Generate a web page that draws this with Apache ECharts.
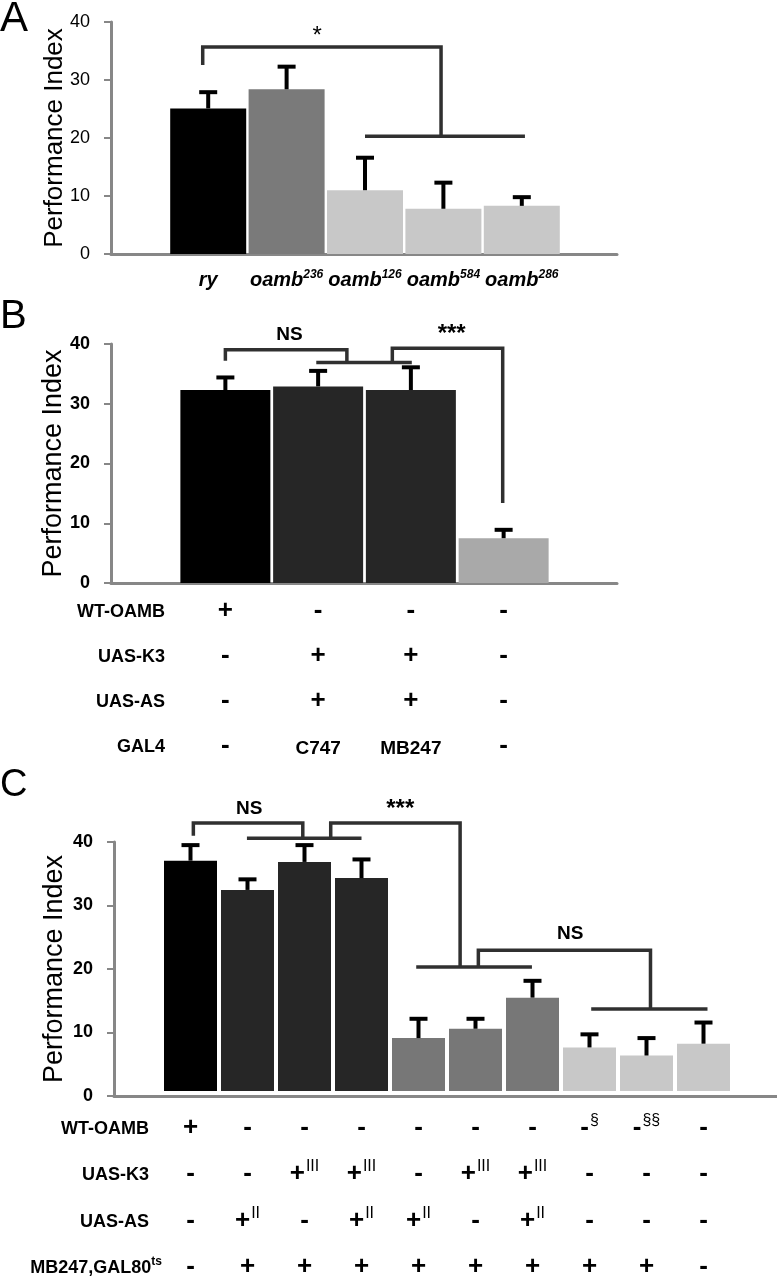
<!DOCTYPE html>
<html><head><meta charset="utf-8">
<script src="https://cdn.jsdelivr.net/npm/echarts@6/dist/echarts.min.js"></script>
<style>html,body{margin:0;padding:0;background:#fff}#c{width:777px;height:1280px}</style>
</head><body><div id="c"></div>
<script>
// ---------- DATA ----------
// Panel A
const catsA = ['ry', 'oamb^236', 'oamb^126', 'oamb^584', 'oamb^286'];
const valsA = [25.1, 28.4, 11.0, 7.8, 8.3];
const semA  = [2.8, 3.9, 5.6, 4.5, 1.5];
const colorsA = ['#000000', '#7a7a7a', '#c8c8c8', '#c8c8c8', '#c8c8c8'];
const bracketsA = [
  [[-0.07, 32.6], [-0.07, 35.7], [2.97, 35.7], [2.97, 20.3]],
  [[2.0, 20.3], [4.04, 20.3]]
];
const sigTextA = ['*'];
const sigPosA = [[1.39, 37.6]];

// Panel B
const catsB = ['1', '2', '3', '4'];
const valsB = [32.3, 32.9, 32.3, 7.5];
const semB  = [2.1, 2.6, 3.8, 1.4];
const colorsB = ['#000000', '#262626', '#262626', '#a9a9a9'];
const rowNamesB = ['WT-OAMB', 'UAS-K3', 'UAS-AS', 'GAL4'];
const wtB   = ['+', '-', '-', '-'];
const k3B   = ['-', '+', '+', '-'];
const asB   = ['-', '+', '+', '-'];
const gal4B = ['-', 'C747', 'MB247', '-'];
const bracketsB = [
  [[0, 37.2], [0, 39.05], [1.31, 39.05], [1.31, 36.9]],
  [[0.98, 36.9], [2.01, 36.9]],
  [[1.8, 36.9], [1.8, 39.3], [2.99, 39.3], [2.99, 13.4]]
];
const sigTextB = ['NS', '***'];
const sigPosB = [[0.69, 41.6], [2.44, 41.6]];

// Panel C
const catsC = ['1','2','3','4','5','6','7','8','9','10'];
const valsC = [37.0, 32.3, 36.8, 34.2, 8.5, 10.0, 15.0, 7.0, 5.7, 7.6];
const semC  = [2.5, 1.7, 2.7, 3.0, 3.1, 1.6, 2.7, 2.1, 2.8, 3.4];
const colorsC = ['#000000', '#262626', '#262626', '#262626', '#777777', '#777777', '#777777', '#c8c8c8', '#c8c8c8', '#c8c8c8'];
const rowNamesC = ['WT-OAMB', 'UAS-K3', 'UAS-AS', 'MB247,GAL80^ts'];
const wtC = ['+', '-', '-', '-', '-', '-', '-', '-^§', '-^§§', '-'];
const k3C = ['-', '-', '+^III', '+^III', '-', '+^III', '+^III', '-', '-', '-'];
const asC = ['-', '+^II', '-', '+^II', '+^II', '-', '+^II', '-', '-', '-'];
const mbC = ['-', '+', '+', '+', '+', '+', '+', '+', '+', '-'];
const bracketsC = [
  [[0.05, 41.0], [0.05, 43.0], [1.97, 43.0], [1.97, 40.6]],
  [[0.99, 40.6], [3.0, 40.6]],
  [[2.46, 40.6], [2.46, 43.0], [4.73, 43.0], [4.73, 20.3]],
  [[3.96, 20.3], [5.99, 20.3]],
  [[5.05, 20.3], [5.05, 22.96], [8.07, 22.96], [8.07, 13.7]],
  [[7.03, 13.7], [9.07, 13.7]]
];
const sigTextC = ['NS', '***', 'NS'];
const sigPosC = [[1.03, 45.3], [3.68, 45.2], [6.66, 25.6]];

const yTicks = [0, 10, 20, 30, 40];

// ---------- STYLE / LAYOUT ----------
const FF = 'Liberation Sans, Arial, sans-serif';
const AX = '#878787';
const BR = '#303030';

const panels = [
  { letter: 'A', letterSize: 42, letterTop: -2,
    frameL: 111, frameR: 617, top: 22, bottom: 254, barL: 169, cw: 78.4, barW: 76,
    cats: catsA, vals: valsA, sem: semA, colors: colorsA, brackets: bracketsA,
    sigText: sigTextA, sigPos: sigPosA, tickBold: false, nameGap: 43, nameSize: 26,
    catLabels: true, rows: [], rowNames: [], rowY: [], headGap: [] },
  { letter: 'B', letterSize: 40, letterTop: 297,
    frameL: 111, frameR: 617, top: 344, bottom: 583, barL: 179, cw: 92.75, barW: 90,
    cats: catsB, vals: valsB, sem: semB, colors: colorsB, brackets: bracketsB,
    sigText: sigTextB, sigPos: sigPosB, tickBold: true, nameGap: 44, nameSize: 27,
    catLabels: false, rows: [wtB, k3B, asB, gal4B], rowNames: rowNamesB,
    rowY: [610, 655, 700, 745], headGap: [14, 14, 14, 14] },
  { letter: 'C', letterSize: 38, letterTop: 767,
    frameL: 114, frameR: 777, top: 842, bottom: 1096, barL: 162, cw: 57, barW: 53,
    cats: catsC, vals: valsC, sem: semC, colors: colorsC, brackets: bracketsC,
    sigText: sigTextC, sigPos: sigPosC, tickBold: true, nameGap: 46, nameSize: 27,
    catLabels: false, rows: [wtC, k3C, asC, mbC], rowNames: rowNamesC,
    rowY: [1132, 1178, 1225, 1271], headGap: [13, 13, 13, 0] }
];

const cellRich = {
  b: { fontFamily: FF, fontSize: 26, fontWeight: 'bold', color: '#000', verticalAlign: 'bottom', lineHeight: 28 },
  s: { fontFamily: FF, fontSize: 16, fontWeight: 'normal', color: '#000', verticalAlign: 'bottom', lineHeight: 16, padding: [0, 0, 12, 1] },
  w: { fontFamily: FF, fontSize: 19, fontWeight: 'bold', color: '#000', verticalAlign: 'bottom', lineHeight: 26 }
};
const headRich = {
  h: { fontFamily: FF, fontSize: 18, fontWeight: 'bold', color: '#000', verticalAlign: 'bottom', lineHeight: 22 },
  s: { fontFamily: FF, fontSize: 12, fontWeight: 'bold', color: '#000', verticalAlign: 'bottom', lineHeight: 12, padding: [0, 0, 9, 0] }
};
const catRich = {
  i: { fontFamily: FF, fontSize: 20, fontWeight: 'bold', fontStyle: 'italic', color: '#000', verticalAlign: 'bottom', lineHeight: 22 },
  s: { fontFamily: FF, fontSize: 12, fontWeight: 'bold', fontStyle: 'italic', color: '#000', verticalAlign: 'bottom', lineHeight: 12, padding: [0, 0, 9, 0] }
};

function fmtCell(s) {
  const parts = s.split('^');
  if (parts[0] === '+' || parts[0] === '-') {
    return parts.length > 1 ? '{b|' + parts[0] + '}{s|' + parts[1] + '}' : '{b|' + parts[0] + '}';
  }
  return '{w|' + s + '}';
}
function fmtHead(s) {
  const parts = s.split('^');
  return parts.length > 1 ? '{h|' + parts[0] + '}{s|' + parts[1] + '}' : '{h|' + s + '}';
}
function fmtCat(s) {
  const parts = s.split('^');
  return parts.length > 1 ? '{i|' + parts[0] + '}{s|' + parts[1] + '}' : '{i|' + s + '}';
}

const grids = [], xAxes = [], yAxes = [], series = [], titles = [];

panels.forEach(function (p) {
  titles.push({ text: p.letter, left: 0, top: p.letterTop, padding: 0,
    textStyle: { fontFamily: FF, fontSize: p.letterSize, fontWeight: 'normal', color: '#000' } });

  const gF = grids.length;
  grids.push({ left: p.frameL, top: p.top, width: p.frameR - p.frameL, height: p.bottom - p.top });
  const gB = grids.length;
  grids.push({ left: p.barL, top: p.top, width: p.cw * p.cats.length, height: p.bottom - p.top });

  const xF = xAxes.length;
  xAxes.push({ gridIndex: gF, type: 'value',
    min: (p.frameL - p.barL) / p.cw - 0.5, max: (p.frameR - p.barL) / p.cw - 0.5,
    axisLine: { show: true, onZero: false, lineStyle: { color: AX, width: 3 } },
    axisTick: { show: false }, axisLabel: { show: false }, splitLine: { show: false } });
  const yF = yAxes.length;
  yAxes.push({ gridIndex: gF, type: 'value', min: yTicks[0], max: yTicks[yTicks.length - 1], interval: yTicks[1] - yTicks[0],
    axisLine: { show: true, onZero: false, lineStyle: { color: AX, width: 3 } },
    axisTick: { show: true, length: 7, lineStyle: { color: AX, width: 2 } },
    axisLabel: { fontFamily: FF, fontSize: 18, fontWeight: p.tickBold ? 'bold' : 'normal', color: '#000', margin: 21 },
    splitLine: { show: false },
    name: 'Performance Index', nameLocation: 'middle', nameGap: p.nameGap, nameMoveOverlap: false,
    nameTextStyle: { fontFamily: FF, fontSize: p.nameSize, color: '#000' } });

  const xB = xAxes.length;
  xAxes.push({ gridIndex: gB, type: 'category', data: p.cats,
    axisLine: { show: false }, axisTick: { show: false },
    axisLabel: p.catLabels ? { interval: 0, margin: 14, formatter: function (v, i) { return fmtCat(p.cats[i]); }, rich: catRich } : { show: false } });
  const yB = yAxes.length;
  yAxes.push({ gridIndex: gB, type: 'value', min: yTicks[0], max: yTicks[yTicks.length - 1], show: false });

  p.rows.forEach(function (row, r) {
    xAxes.push({ gridIndex: gB, type: 'category', data: row, position: 'bottom',
      offset: p.rowY[r] - p.bottom,
      axisLine: { show: false }, axisTick: { show: false },
      axisLabel: { interval: 0, margin: 0, verticalAlign: 'middle',
        formatter: function (v, i) { return fmtCell(row[i]); }, rich: cellRich },
      name: fmtHead(p.rowNames[r]), nameLocation: 'start', nameGap: p.headGap[r], nameMoveOverlap: false,
      nameTextStyle: { rich: headRich, verticalAlign: 'middle', align: 'right' } });
  });

  series.push({ type: 'bar', xAxisIndex: xB, yAxisIndex: yB, barWidth: p.barW, silent: true,
    data: p.vals.map(function (v, i) { return { value: v, itemStyle: { color: p.colors[i] } }; }) });

  series.push({ type: 'custom', xAxisIndex: xB, yAxisIndex: yB, silent: true, clip: false, z: 3,
    data: p.vals.map(function (v, i) { return [i, v, v + p.sem[i]]; }),
    encode: { x: 0, y: [1, 2] },
    renderItem: function (params, api) {
      const x = api.value(0);
      const a = api.coord([x, api.value(1)]);
      const b = api.coord([x, api.value(2)]);
      const cap = 18;
      return { type: 'group', children: [
        { type: 'line', shape: { x1: a[0], y1: a[1], x2: b[0], y2: b[1] }, style: { stroke: '#000', lineWidth: 4 } },
        { type: 'line', shape: { x1: b[0] - cap / 2, y1: b[1], x2: b[0] + cap / 2, y2: b[1] }, style: { stroke: '#000', lineWidth: 4 } }
      ] };
    } });

  series.push({ type: 'custom', xAxisIndex: xF, yAxisIndex: yF, silent: true, clip: false, z: 4,
    data: p.brackets.map(function (b) { return [b[0][0], b[0][1]]; }),
    encode: { x: 0, y: 1 },
    renderItem: function (params, api) {
      const pts = p.brackets[params.dataIndex].map(function (pt) { return api.coord(pt); });
      return { type: 'polyline', shape: { points: pts }, style: { stroke: BR, lineWidth: 3.5, fill: null } };
    } });

  series.push({ type: 'custom', xAxisIndex: xF, yAxisIndex: yF, silent: true, clip: false, z: 4,
    data: p.sigPos.map(function (s) { return [s[0], s[1]]; }),
    encode: { x: 0, y: 1 },
    renderItem: function (params, api) {
      const c = api.coord([api.value(0), api.value(1)]);
      const t = p.sigText[params.dataIndex];
      const isStar = t.indexOf('*') >= 0;
      return { type: 'text', x: c[0], y: c[1],
        style: { text: t, align: 'center', verticalAlign: 'middle', fill: '#000',
          font: (p.tickBold || !isStar ? 'bold ' : '') + (isStar ? '24px ' : '19px ') + FF } };
    } });
});

const chart = echarts.init(document.getElementById('c'), null, { renderer: 'canvas' });
chart.setOption({
  animation: false,
  backgroundColor: '#ffffff',
  title: titles,
  grid: grids,
  xAxis: xAxes,
  yAxis: yAxes,
  series: series
});
</script>
</body></html>
